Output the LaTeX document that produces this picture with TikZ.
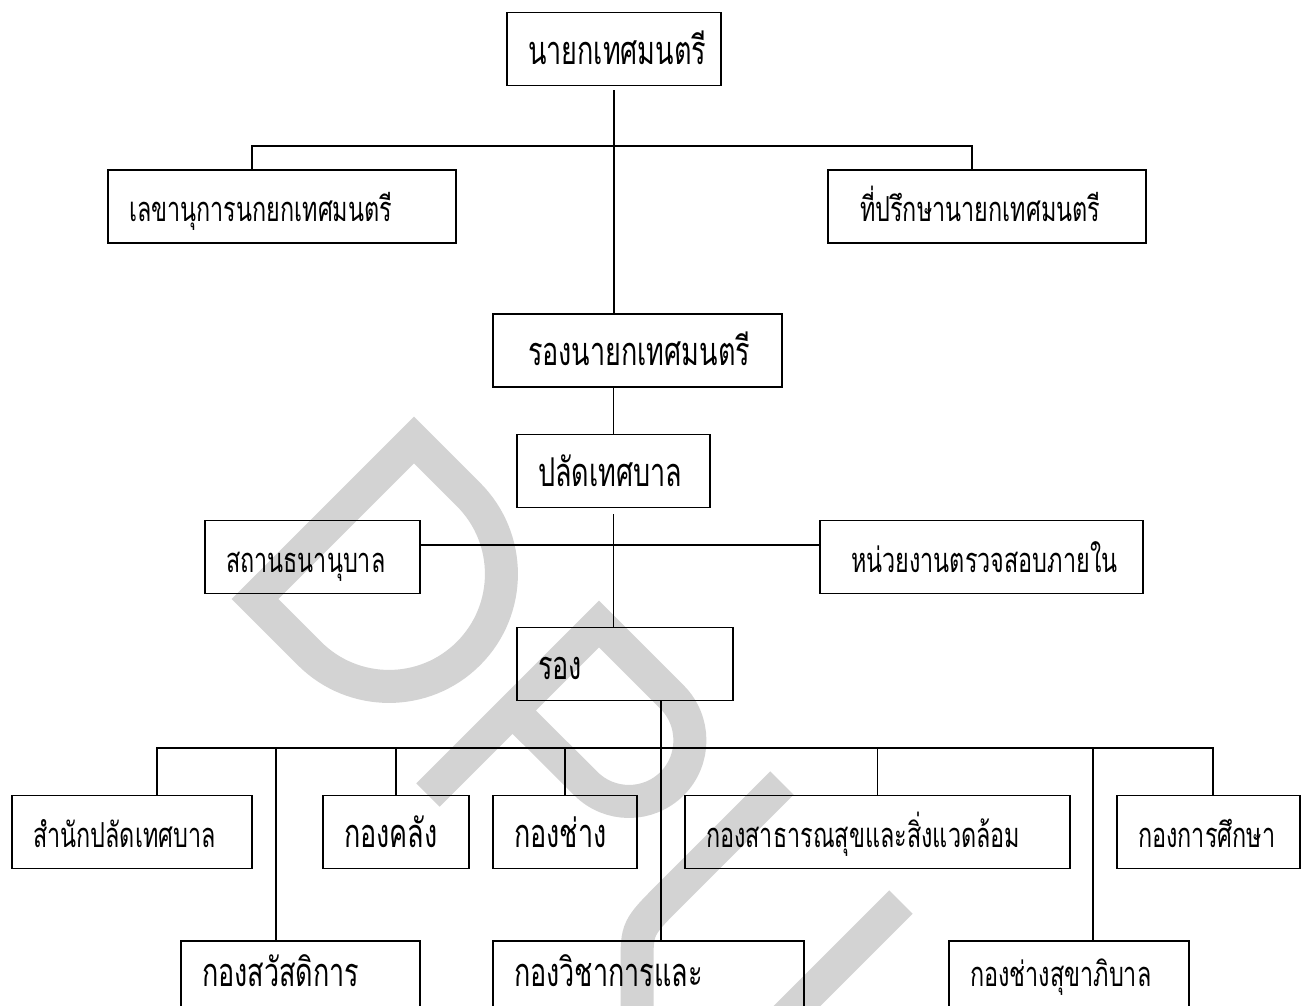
\documentclass[tikz,border=0pt]{standalone}
\usepackage{fontspec}
\usepackage{tikz}
\usetikzlibrary{calc}
\newfontfamily\thaifont[Script=Thai,FakeStretch=0.68]{Loma}
\definecolor{wmgray}{RGB}{211,211,211}

\begin{document}
\begin{tikzpicture}[
    x=0.02cm, y=-0.02cm,
    box/.style={rectangle, draw, line width=1.1pt, align=left, inner xsep=0.42cm, inner ysep=0pt, minimum height=1.46cm, text height=0.75cm, text depth=0.15cm, font=\thaifont\fontsize{19.6}{24}\selectfont},
    big/.style={font=\thaifont\fontsize{22.6}{26}\selectfont},
    low/.style={text height=0.5cm, text depth=0.16cm},
    line/.style={draw, line width=1pt},
    wm/.style={draw=wmgray, line width=0.66cm, line join=miter}
]
\path [use as bounding box] (0,0) rectangle (1302,1005);
\clip (0,0) rectangle (1302,1005);

\draw [wm] (309.5,653.5) -- (255,599) -- (414,440) -- (468.5,494.5)
    .. controls (512.4,538.4) and (512.4,609.6) .. (468.5,653.5)
    .. controls (424.6,697.4) and (353.4,697.4) .. cycle;
\draw [wm] (428,795) -- (599,624) -- (672,697)
    .. controls (695.8,720.8) and (695.9,759.8) .. (672.1,783.6)
    .. controls (648.3,807.4) and (609.7,807.4) .. (585.9,783.6) -- (513,711);
\draw [wm] (782,783) -- (670,895) .. controls (637,928) .. (637,965) -- (637,1040);
\draw [wm] (901,902) -- (780,1023);

\node [box, big, text width=3.44cm] (mayor) at (614,49) {นายกเทศมนตรี};
\node [box, text width=6.12cm] (secr) at (282,206.5) {เลขานุการนกยกเทศมนตรี};
\node [box, inner xsep=0.64cm, text width=5.08cm] (advis) at (987,206.5) {ที่ปรึกษานายกเทศมนตรี};
\node [box, big, inner xsep=0.7cm, text width=4.38cm] (deputy) at (637.5,350.5) {รองนายกเทศมนตรี};
\node [box, big, text width=3.02cm] (clerk) at (613.5,471) {ปลัดเทศบาล};
\node [box, text width=3.46cm] (pawn) at (312.5,557) {สถานธนานุบาล};
\node [box, inner xsep=0.62cm, text width=5.22cm] (audit) at (981.5,557) {หน่วยงานตรวจสอบภายใน};
\node [box, big, text width=3.48cm] (rong) at (625,664) {รอง};
\node [box, text width=3.96cm] (office) at (132,832) {สำนักปลัดเทศบาล};
\node [box, big, text width=2.08cm] (finance) at (396,832) {กองคลัง};
\node [box, big, text width=2.04cm] (works) at (565,832) {กองช่าง};
\node [box, text width=6.86cm] (health) at (877.5,832) {กองสาธารณสุขและสิ่งแวดล้อม};
\node [box, text width=2.82cm] (edu) at (1208.5,832) {กองการศึกษา};
\node [box, big, low, text width=3.94cm] (welfare) at (300.5,977.5) {กองสวัสดิการ};
\node [box, big, low, text width=5.38cm] (acad) at (648.5,977.5) {กองวิชาการและ};
\node [box, low, text width=3.96cm] (sanit) at (1069,977.5) {กองช่างสุขาภิบาล};

\coordinate (hub1) at (614,146);
\coordinate (bus) at (661,748);
\coordinate (rongout) at ([xshift=0.72cm]rong.south);

\path [line] ([yshift=-0.08cm]mayor.south) -- (mayor.south |- deputy.north);
\path [line] ([xshift=-0.6cm]secr.north) |- (hub1) -| ([xshift=-0.3cm]advis.north);
\path [line] (clerk.north |- deputy.south) -- (clerk.north);
\path [line] ([yshift=-0.12cm]clerk.south) -- (clerk.south |- rong.north);
\path [line] ([yshift=0.24cm]pawn.east) -- ([yshift=0.24cm]audit.west);
\path [line] (rongout) -- (rongout |- acad.north);
\path [line] ([xshift=0.5cm]office.north) |- (bus) -| ([xshift=0.09cm]edu.north);
\foreach \n in {finance,works,health}
    \path [line] (\n.north) -- (\n.north |- bus);
\path [line] ([xshift=-0.49cm]welfare.north) -- ([xshift=-0.49cm]welfare.north |- bus);
\path [line] ([xshift=0.48cm]sanit.north) -- ([xshift=0.48cm]sanit.north |- bus);

\end{tikzpicture}
\end{document}
